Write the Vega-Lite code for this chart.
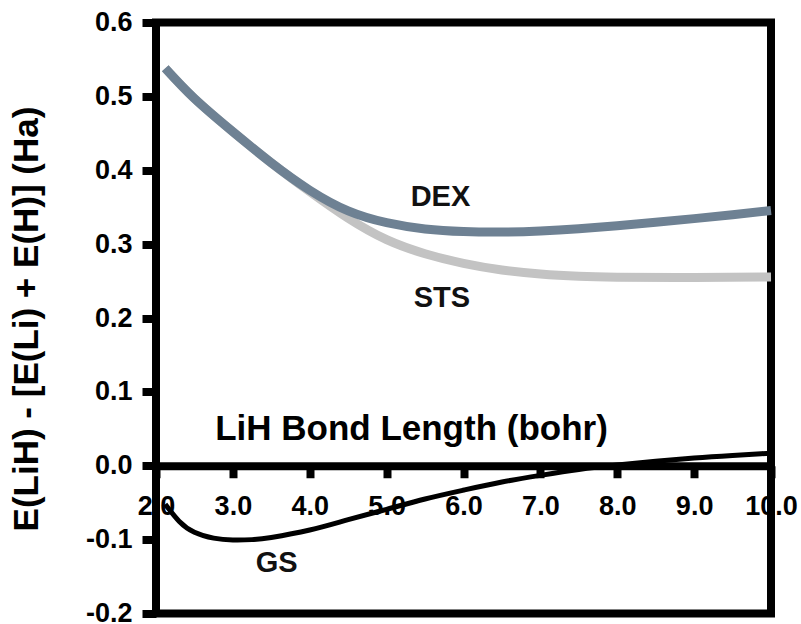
{
  "$schema": "https://vega.github.io/schema/vega-lite/v6.json",
  "width": 615,
  "height": 591,
  "autosize": {"type": "none"},
  "padding": {"left": 156, "top": 22.5, "right": 30, "bottom": 10.5},
  "config": {
    "font": "Liberation Sans",
    "view": {"stroke": "black", "strokeWidth": 8},
    "axis": {"grid": false}
  },
  "datasets": {
    "curves": [
      {"series": "STS", "x": 2.12, "y": 0.538},
      {"series": "STS", "x": 2.5, "y": 0.497},
      {"series": "STS", "x": 3.0, "y": 0.452},
      {"series": "STS", "x": 3.5, "y": 0.41},
      {"series": "STS", "x": 4.0, "y": 0.371},
      {"series": "STS", "x": 4.5, "y": 0.335},
      {"series": "STS", "x": 5.0, "y": 0.306},
      {"series": "STS", "x": 5.5, "y": 0.287},
      {"series": "STS", "x": 6.0, "y": 0.274},
      {"series": "STS", "x": 6.5, "y": 0.265},
      {"series": "STS", "x": 7.0, "y": 0.2595},
      {"series": "STS", "x": 7.5, "y": 0.2565},
      {"series": "STS", "x": 8.0, "y": 0.2553},
      {"series": "STS", "x": 9.0, "y": 0.2548},
      {"series": "STS", "x": 10.0, "y": 0.2556},
      {"series": "DEX", "x": 2.12, "y": 0.538},
      {"series": "DEX", "x": 2.5, "y": 0.497},
      {"series": "DEX", "x": 3.0, "y": 0.452},
      {"series": "DEX", "x": 3.5, "y": 0.41},
      {"series": "DEX", "x": 4.0, "y": 0.373},
      {"series": "DEX", "x": 4.5, "y": 0.345},
      {"series": "DEX", "x": 5.0, "y": 0.329},
      {"series": "DEX", "x": 5.5, "y": 0.3205},
      {"series": "DEX", "x": 6.0, "y": 0.317},
      {"series": "DEX", "x": 6.5, "y": 0.3163},
      {"series": "DEX", "x": 7.0, "y": 0.3178},
      {"series": "DEX", "x": 7.5, "y": 0.3208},
      {"series": "DEX", "x": 8.0, "y": 0.3248},
      {"series": "DEX", "x": 8.5, "y": 0.3295},
      {"series": "DEX", "x": 9.0, "y": 0.3345},
      {"series": "DEX", "x": 9.5, "y": 0.3398},
      {"series": "DEX", "x": 10.0, "y": 0.3455},
      {"series": "GS", "x": 2.12, "y": -0.052},
      {"series": "GS", "x": 2.3, "y": -0.075},
      {"series": "GS", "x": 2.5, "y": -0.09},
      {"series": "GS", "x": 2.75, "y": -0.098},
      {"series": "GS", "x": 3.0, "y": -0.1005},
      {"series": "GS", "x": 3.25, "y": -0.1},
      {"series": "GS", "x": 3.5, "y": -0.097},
      {"series": "GS", "x": 4.0, "y": -0.087},
      {"series": "GS", "x": 4.5, "y": -0.073},
      {"series": "GS", "x": 5.0, "y": -0.059},
      {"series": "GS", "x": 5.5, "y": -0.045},
      {"series": "GS", "x": 6.0, "y": -0.033},
      {"series": "GS", "x": 6.5, "y": -0.022},
      {"series": "GS", "x": 7.0, "y": -0.013},
      {"series": "GS", "x": 7.5, "y": -0.005},
      {"series": "GS", "x": 8.0, "y": 0.001},
      {"series": "GS", "x": 8.5, "y": 0.006},
      {"series": "GS", "x": 9.0, "y": 0.0105},
      {"series": "GS", "x": 9.5, "y": 0.014},
      {"series": "GS", "x": 10.0, "y": 0.017}
    ],
    "labels": [
      {"label": "DEX", "x": 5.7, "y": 0.364},
      {"label": "STS", "x": 5.72, "y": 0.227},
      {"label": "GS", "x": 3.57, "y": -0.132}
    ]
  },
  "encoding": {
    "x": {
      "field": "x",
      "type": "quantitative",
      "scale": {"domain": [2, 10], "nice": false, "zero": false},
      "axis": {
        "title": "LiH Bond Length (bohr)",
        "values": [2, 3, 4, 5, 6, 7, 8, 9, 10],
        "format": ".1f",
        "offset": -147.75,
        "domainColor": "black",
        "domainWidth": 8,
        "tickColor": "black",
        "tickWidth": 8,
        "tickSize": 12,
        "labelFontSize": 27,
        "labelFontWeight": "bold",
        "labelColor": "black",
        "labelPadding": 16,
        "labelFlush": false,
        "labelOverlap": false,
        "labelBound": false,
        "titleFontSize": 35,
        "titleFontWeight": "bold",
        "titleColor": "black",
        "titleX": 255,
        "titleY": -26,
        "titleAlign": "center",
        "titleBaseline": "alphabetic",
        "titleAnchor": null
      }
    },
    "y": {
      "field": "y",
      "type": "quantitative",
      "scale": {"domain": [-0.2, 0.6], "nice": false, "zero": false},
      "axis": {
        "title": "E(LiH) - [E(Li) + E(H)] (Ha)",
        "values": [-0.2, -0.1, 0, 0.1, 0.2, 0.3, 0.4, 0.5, 0.6],
        "labelExpr": "datum.value < -0.00001 ? '-' + format(-datum.value, '.1f') : format(abs(datum.value), '.1f')",
        "domain": false,
        "tickColor": "black",
        "tickWidth": 8,
        "tickSize": 14,
        "labelFontSize": 27,
        "labelFontWeight": "bold",
        "labelColor": "black",
        "labelPadding": 10,
        "labelFlush": false,
        "labelOverlap": false,
        "labelBound": false,
        "titleFontSize": 35,
        "titleFontWeight": "bold",
        "titleColor": "black",
        "titleAngle": 270,
        "titleX": -119,
        "titleY": 296,
        "titleAlign": "center",
        "titleBaseline": "alphabetic",
        "titleAnchor": null
      }
    }
  },
  "layer": [
    {
      "data": {"name": "curves"},
      "transform": [{"filter": "datum.series === 'STS'"}],
      "mark": {"type": "line", "color": "#c3c3c3", "strokeWidth": 9, "interpolate": "natural"}
    },
    {
      "data": {"name": "curves"},
      "transform": [{"filter": "datum.series === 'DEX'"}],
      "mark": {"type": "line", "color": "#6e8193", "strokeWidth": 9, "interpolate": "natural"}
    },
    {
      "data": {"name": "curves"},
      "transform": [{"filter": "datum.series === 'GS'"}],
      "mark": {"type": "line", "color": "black", "strokeWidth": 5, "interpolate": "natural"}
    },
    {
      "data": {"name": "labels"},
      "mark": {"type": "text", "fontSize": 29, "fontWeight": "bold", "color": "#111111", "align": "center", "baseline": "middle"},
      "encoding": {"text": {"field": "label"}}
    }
  ]
}
